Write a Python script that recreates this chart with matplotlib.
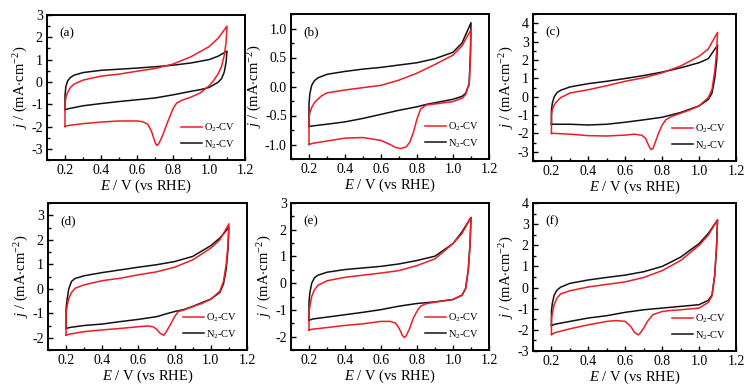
"""Six CV panels (O2 vs N2 saturated), recreated from a published figure."""
import matplotlib
matplotlib.use("Agg")
import matplotlib.pyplot as plt
from matplotlib.ticker import MultipleLocator, FormatStrFormatter

plt.rcParams["font.family"] = ["Liberation Serif", "DejaVu Serif"]
plt.rcParams["mathtext.fontset"] = "custom"
plt.rcParams["mathtext.rm"] = "Liberation Serif"
plt.rcParams["mathtext.it"] = "Liberation Serif:italic"
plt.rcParams["axes.unicode_minus"] = False

RED, BLACK = "#ee1c25", "#111111"

# ---- panel (a) ----
A_O2_E = [0.2, 0.2, 0.205, 0.213, 0.23, 0.25, 0.3, 0.4, 0.5, 0.6, 0.7, 0.8, 0.9, 1.0, 1.05, 1.1,
          1.1, 1.095, 1.085, 1.07, 1.05, 1.02, 1.0, 0.95, 0.9, 0.85, 0.82, 0.8, 0.77, 0.74, 0.72,
          0.71, 0.7, 0.68, 0.66, 0.63, 0.6, 0.5, 0.4, 0.3, 0.22, 0.2]
A_O2_J = [-2.0, -1.0, -0.7, -0.5, -0.25, -0.1, 0.08, 0.26, 0.35, 0.48, 0.6, 0.8, 1.13, 1.58, 1.95, 2.5,
          2.5, 1.8, 1.2, 0.7, 0.35, 0.0, -0.18, -0.5, -0.68, -0.82, -0.95, -1.2, -1.8, -2.45, -2.78,
          -2.85, -2.7, -2.2, -1.9, -1.78, -1.75, -1.75, -1.8, -1.87, -1.95, -2.0]
A_N2_E = [0.2, 0.2, 0.205, 0.215, 0.23, 0.25, 0.3, 0.4, 0.5, 0.6, 0.7, 0.8, 0.9, 1.0, 1.05, 1.1,
          1.1, 1.095, 1.085, 1.07, 1.05, 1.0, 0.95, 0.9, 0.8, 0.7, 0.6, 0.5, 0.4, 0.3, 0.22, 0.2]
A_N2_J = [-1.24, -0.6, -0.2, 0.05, 0.2, 0.3, 0.42, 0.52, 0.57, 0.62, 0.68, 0.75, 0.85, 1.0, 1.15, 1.38,
          1.38, 0.9, 0.45, 0.15, -0.02, -0.25, -0.35, -0.42, -0.58, -0.72, -0.8, -0.88, -0.97,
          -1.07, -1.2, -1.24]

# ---- panel (b) ----
B_O2_E = [0.2, 0.2, 0.205, 0.215, 0.232, 0.27, 0.3, 0.4, 0.5, 0.6, 0.7, 0.8, 0.9, 0.95, 1.0, 1.05, 1.1,
          1.1, 1.097, 1.09, 1.07, 1.05, 1.0, 0.9, 0.85, 0.82, 0.8, 0.78, 0.76, 0.74, 0.71, 0.68,
          0.65, 0.6, 0.5, 0.4, 0.3, 0.22, 0.2]
B_O2_J = [-1.0, -0.55, -0.45, -0.36, -0.27, -0.16, -0.11, -0.06, -0.02, 0.02, 0.11, 0.23, 0.38, 0.46,
          0.54, 0.7, 0.98,
          0.98, 0.5, 0.05, -0.14, -0.2, -0.26, -0.3, -0.32, -0.39, -0.56, -0.79, -0.96, -1.04,
          -1.07, -1.05, -1.0, -0.93, -0.88, -0.89, -0.94, -0.98, -1.0]
B_N2_E = [0.2, 0.2, 0.205, 0.215, 0.23, 0.25, 0.3, 0.4, 0.5, 0.6, 0.7, 0.8, 0.9, 1.0, 1.05, 1.1,
          1.1, 1.097, 1.09, 1.07, 1.05, 1.0, 0.9, 0.85, 0.8, 0.7, 0.6, 0.5, 0.4, 0.3, 0.22, 0.2]
B_N2_J = [-0.69, -0.3, -0.12, 0.02, 0.1, 0.15, 0.21, 0.26, 0.3, 0.33, 0.37, 0.41, 0.48, 0.59, 0.75, 1.1,
          1.1, 0.6, 0.05, -0.12, -0.17, -0.22, -0.28, -0.31, -0.35, -0.41, -0.48, -0.55, -0.61,
          -0.65, -0.68, -0.69]

# ---- panel (c) ----
C_O2_E = [0.2, 0.2, 0.205, 0.215, 0.23, 0.25, 0.3, 0.4, 0.5, 0.6, 0.7, 0.8, 0.9, 1.0, 1.05, 1.1,
          1.1, 1.095, 1.085, 1.07, 1.05, 1.0, 0.95, 0.9, 0.85, 0.82, 0.8, 0.78, 0.76, 0.75, 0.74,
          0.73, 0.71, 0.69, 0.65, 0.6, 0.5, 0.4, 0.3, 0.22, 0.2]
C_O2_J = [-2.0, -1.0, -0.7, -0.45, -0.25, -0.05, 0.2, 0.38, 0.6, 0.84, 1.03, 1.3, 1.67, 2.2, 2.6, 3.5,
          3.5, 2.4, 1.4, 0.4, -0.05, -0.5, -0.72, -0.9, -1.08, -1.25, -1.54, -2.0, -2.55, -2.82,
          -2.88, -2.73, -2.27, -2.1, -2.04, -2.09, -2.14, -2.12, -2.04, -2.0, -2.0]
C_N2_E = [0.2, 0.2, 0.205, 0.215, 0.23, 0.25, 0.3, 0.4, 0.5, 0.6, 0.7, 0.8, 0.9, 1.0, 1.05, 1.1,
          1.1, 1.095, 1.085, 1.07, 1.05, 1.0, 0.95, 0.9, 0.8, 0.7, 0.6, 0.5, 0.4, 0.3, 0.22, 0.2]
C_N2_J = [-1.5, -0.7, -0.35, 0.0, 0.22, 0.35, 0.53, 0.71, 0.84, 0.99, 1.15, 1.34, 1.57, 1.85, 2.07, 2.8,
          2.8, 1.9, 1.0, 0.2, -0.15, -0.5, -0.68, -0.86, -1.12, -1.26, -1.39, -1.5, -1.54, -1.5,
          -1.5, -1.5]

# ---- panel (d) ----
D_O2_E = [0.2, 0.2, 0.205, 0.215, 0.23, 0.25, 0.3, 0.4, 0.5, 0.6, 0.7, 0.8, 0.9, 1.0, 1.05, 1.1,
          1.1, 1.095, 1.085, 1.07, 1.05, 1.0, 0.95, 0.9, 0.85, 0.82, 0.8, 0.78, 0.75, 0.74, 0.72,
          0.7, 0.68, 0.65, 0.6, 0.5, 0.4, 0.3, 0.22, 0.2]
D_O2_J = [-1.89, -1.0, -0.73, -0.4, -0.15, 0.02, 0.16, 0.33, 0.43, 0.57, 0.69, 0.88, 1.18, 1.66, 2.0, 2.65,
          2.65, 1.8, 1.0, 0.3, -0.1, -0.43, -0.6, -0.73, -0.87, -0.93, -1.14, -1.42, -1.8, -1.9,
          -1.82, -1.65, -1.55, -1.52, -1.55, -1.62, -1.68, -1.75, -1.85, -1.89]
D_N2_E = [0.2, 0.2, 0.205, 0.215, 0.23, 0.25, 0.3, 0.4, 0.5, 0.6, 0.7, 0.8, 0.9, 1.0, 1.05, 1.1,
          1.1, 1.095, 1.085, 1.07, 1.05, 1.0, 0.9, 0.85, 0.8, 0.75, 0.72, 0.7, 0.6, 0.5, 0.4, 0.3,
          0.22, 0.2]
D_N2_J = [-1.62, -0.8, -0.46, 0.0, 0.3, 0.42, 0.53, 0.66, 0.77, 0.88, 0.98, 1.11, 1.32, 1.76, 2.07, 2.5,
          2.5, 1.6, 0.8, 0.2, -0.15, -0.42, -0.72, -0.85, -0.93, -1.03, -1.1, -1.14, -1.25, -1.34,
          -1.44, -1.5, -1.58, -1.62]

# ---- panel (e) ----
E_O2_E = [0.2, 0.2, 0.205, 0.215, 0.23, 0.25, 0.3, 0.4, 0.5, 0.6, 0.7, 0.8, 0.9, 1.0, 1.05, 1.1,
          1.1, 1.095, 1.085, 1.07, 1.05, 1.0, 0.9, 0.85, 0.82, 0.8, 0.78, 0.76, 0.74, 0.73, 0.72,
          0.7, 0.68, 0.65, 0.6, 0.5, 0.4, 0.3, 0.22, 0.2]
E_O2_J = [-1.75, -1.1, -0.86, -0.5, -0.25, -0.08, 0.09, 0.22, 0.3, 0.38, 0.47, 0.66, 0.91, 1.48, 1.86, 2.46,
          2.46, 1.5, 0.5, -0.2, -0.45, -0.61, -0.71, -0.77, -0.86, -1.05, -1.3, -1.68, -1.97, -2.03,
          -1.97, -1.68, -1.49, -1.43, -1.43, -1.52, -1.58, -1.66, -1.72, -1.75]
E_N2_E = [0.2, 0.2, 0.205, 0.215, 0.23, 0.25, 0.3, 0.4, 0.5, 0.6, 0.7, 0.8, 0.9, 1.0, 1.05, 1.1,
          1.1, 1.095, 1.085, 1.07, 1.05, 1.0, 0.9, 0.8, 0.7, 0.6, 0.5, 0.4, 0.3, 0.22, 0.2]
E_N2_J = [-1.39, -0.7, -0.35, 0.0, 0.2, 0.3, 0.41, 0.51, 0.57, 0.63, 0.72, 0.85, 1.01, 1.48, 1.92, 2.46,
          2.46, 1.5, 0.5, -0.2, -0.45, -0.61, -0.7, -0.76, -0.86, -0.99, -1.09, -1.18, -1.27, -1.34,
          -1.39]

# ---- panel (f) ----
F_O2_E = [0.2, 0.2, 0.205, 0.215, 0.23, 0.25, 0.3, 0.4, 0.5, 0.6, 0.7, 0.8, 0.9, 1.0, 1.05, 1.1,
          1.1, 1.095, 1.085, 1.07, 1.05, 1.0, 0.9, 0.85, 0.8, 0.75, 0.72, 0.7, 0.68, 0.67, 0.65,
          0.63, 0.6, 0.55, 0.5, 0.4, 0.3, 0.22, 0.2]
F_O2_J = [-2.22, -1.5, -1.2, -0.8, -0.5, -0.3, -0.15, 0.03, 0.15, 0.27, 0.48, 0.8, 1.28, 2.0, 2.48, 3.2,
          3.2, 2.0, 0.6, -0.4, -0.7, -0.97, -1.05, -1.08, -1.13, -1.28, -1.6, -1.92, -2.16, -2.24,
          -2.12, -1.84, -1.6, -1.56, -1.6, -1.76, -1.95, -2.13, -2.22]
F_N2_E = [0.2, 0.2, 0.205, 0.215, 0.23, 0.25, 0.3, 0.4, 0.5, 0.6, 0.7, 0.8, 0.9, 1.0, 1.05, 1.1,
          1.1, 1.095, 1.085, 1.07, 1.05, 1.0, 0.9, 0.8, 0.7, 0.6, 0.5, 0.4, 0.3, 0.22, 0.2]
F_N2_J = [-1.8, -1.1, -0.73, -0.35, -0.12, 0.02, 0.2, 0.36, 0.48, 0.59, 0.75, 1.0, 1.44, 2.08, 2.56, 3.2,
          3.2, 2.0, 0.6, -0.35, -0.6, -0.81, -0.89, -0.97, -1.05, -1.17, -1.33, -1.44, -1.6, -1.73,
          -1.8]

LABELS = ["(a)", "(b)", "(c)", "(d)", "(e)", "(f)"]
O2 = [(A_O2_E, A_O2_J), (B_O2_E, B_O2_J), (C_O2_E, C_O2_J),
      (D_O2_E, D_O2_J), (E_O2_E, E_O2_J), (F_O2_E, F_O2_J)]
N2 = [(A_N2_E, A_N2_J), (B_N2_E, B_N2_J), (C_N2_E, C_N2_J),
      (D_N2_E, D_N2_J), (E_N2_E, E_N2_J), (F_N2_E, F_N2_J)]
YLIMS = [(-3.5, 3), (-1.25, 1.25), (-3.5, 4.5), (-2.5, 3.5), (-2.5, 3), (-3, 4)]
YSTEP = [1, 0.5, 1, 1, 1, 1]

# axes boxes in pixels: left, right, top, bottom
W, H = 749, 388
BOXES = [(47, 245, 15, 160), (291, 489, 14, 159), (533, 736, 14, 161),
         (48, 247, 203, 350), (291, 489, 203, 350), (533, 736, 203, 351)]

fig = plt.figure(figsize=(W / 100, H / 100), dpi=100)
for i, (l, r, t, b) in enumerate(BOXES):
    ax = fig.add_axes([l / W, 1 - b / H, (r - l) / W, (b - t) / H])
    ax.plot(*O2[i], color=RED, lw=1.1, label="O$_2$-CV", zorder=3)
    ax.plot(*N2[i], color=BLACK, lw=1.1, label="N$_2$-CV", zorder=2)
    ax.set_xlim(0.1, 1.2)
    ax.set_ylim(*YLIMS[i])
    ax.xaxis.set_major_locator(MultipleLocator(0.2))
    ax.xaxis.set_minor_locator(MultipleLocator(0.1))
    ax.xaxis.set_major_formatter(FormatStrFormatter("%.1f"))
    ax.yaxis.set_major_locator(MultipleLocator(YSTEP[i]))
    ax.yaxis.set_minor_locator(MultipleLocator(YSTEP[i] / 2))
    if YSTEP[i] < 1:
        ax.yaxis.set_major_formatter(FormatStrFormatter("%.1f"))
    ax.tick_params(which="both", direction="in", top=False, right=False,
                   labelsize=10, width=1.0, pad=3)
    ax.tick_params(which="major", length=3.5)
    ax.tick_params(which="minor", length=2)
    for s in ax.spines.values():
        s.set_linewidth(1.4)
    ax.set_xlabel(r"$\it{E}$ / V (vs RHE)", fontsize=10.5, labelpad=0)
    ax.set_ylabel(r"$\it{j}$ / (mA$\cdot$cm$^{-2}$)", fontsize=10.5, labelpad=1)
    ax.text(0.06, 0.875, LABELS[i], transform=ax.transAxes, fontsize=9.5,
            va="center", ha="left")
    ax.legend(loc="lower right", frameon=False, fontsize=7.5, handlelength=2.0,
              handletextpad=0.2, labelspacing=0.35, borderaxespad=0.5)

fig.savefig("out.png", dpi=100, facecolor="white")
